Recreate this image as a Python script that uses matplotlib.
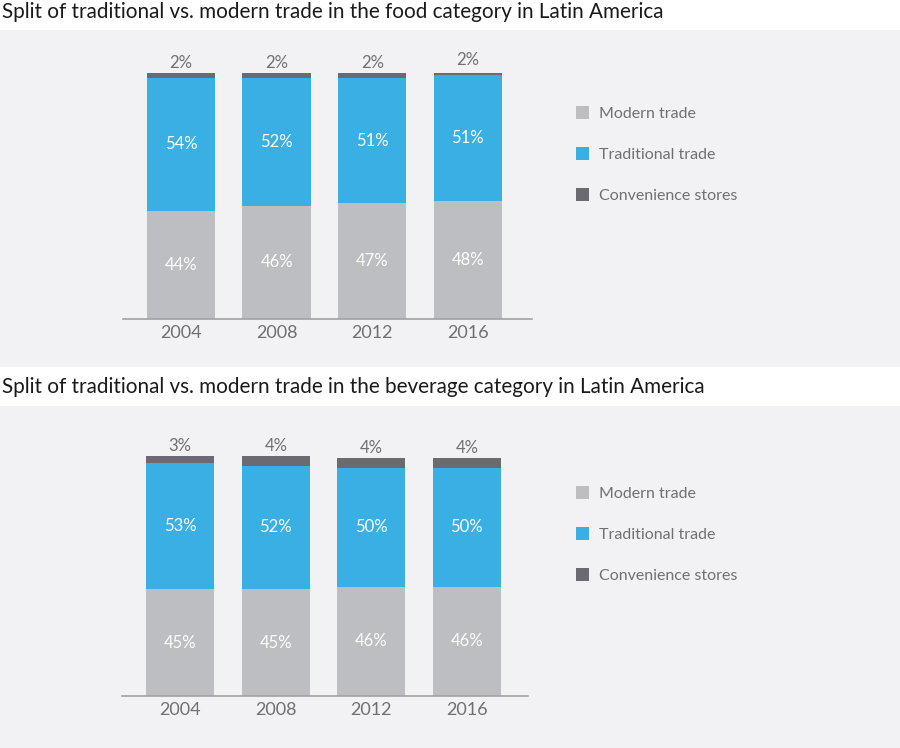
import matplotlib
matplotlib.use("Agg")
import matplotlib.pyplot as plt
from matplotlib.patches import Rectangle
import numpy as np

years = ["2004", "2008", "2012", "2016"]
food_modern = [44, 46, 47, 48]
food_traditional = [54, 52, 51, 51]
food_convenience = [2, 2, 2, 2]
bev_modern = [45, 45, 46, 46]
bev_traditional = [53, 52, 50, 50]
bev_convenience = [3, 4, 4, 4]
series_names = ["Modern trade", "Traditional trade", "Convenience stores"]
title_food = "Split of traditional vs. modern trade in the food category in Latin America"
title_bev = "Split of traditional vs. modern trade in the beverage category in Latin America"

C_MOD = "#bdbec1"
C_TRAD = "#39afe4"
C_CONV = "#6a6b70"
C_BG = "#f2f2f4"
C_TXT = "#6f7074"

W, H = 900, 748
fig = plt.figure(figsize=(W / 100, H / 100), dpi=100)
fig.patch.set_facecolor("white")

def fx(px):
    return px / W

def fy(py):
    return 1 - py / H

# panel backgrounds
fig.patches.append(Rectangle((0, fy(367)), 1, (367 - 30) / H, transform=fig.transFigure,
                             facecolor=C_BG, edgecolor="none", zorder=-5))
fig.patches.append(Rectangle((0, 0), 1, (748 - 406) / H, transform=fig.transFigure,
                             facecolor=C_BG, edgecolor="none", zorder=-5))

fig.text(fx(2), fy(12), title_food, fontsize=14.9, family="Lato", color="#1a1a1a",
         va="center", ha="left")
fig.text(fx(2), fy(387), title_bev, fontsize=14.9, family="Lato", color="#1a1a1a",
         va="center", ha="left")

def panel(left_px, right_px, base_px, top_px, ymax, modern, trad, conv, xl, xr, leg_y_px):
    ax = fig.add_axes([fx(left_px), fy(base_px), (right_px - left_px) / W, (base_px - top_px) / H])
    ax.set_facecolor("none")
    x = np.arange(len(years))
    w = 0.715
    modern = np.array(modern); trad = np.array(trad); conv = np.array(conv)
    b1 = ax.bar(x, modern, w, color=C_MOD, label=series_names[0])
    b2 = ax.bar(x, trad, w, bottom=modern, color=C_TRAD, label=series_names[1])
    b3 = ax.bar(x, conv, w, bottom=modern + trad, color=C_CONV, label=series_names[2])
    for i in range(len(years)):
        ax.text(x[i], modern[i] / 2, f"{modern[i]}%", ha="center", va="center",
                color="white", fontsize=12, family="Lato")
        ax.text(x[i], modern[i] + trad[i] / 2, f"{trad[i]}%", ha="center", va="center",
                color="white", fontsize=12, family="Lato")
        ax.text(x[i], modern[i] + trad[i] + conv[i] + 1.0, f"{conv[i]}%", ha="center",
                va="bottom", color=C_TXT, fontsize=12, family="Lato", clip_on=False)
    ax.set_xlim(xl, xr)
    ax.set_ylim(0, ymax)
    for s in ["top", "right", "left"]:
        ax.spines[s].set_visible(False)
    ax.spines["bottom"].set_color("#a0a1a5")
    ax.spines["bottom"].set_linewidth(1.2)
    ax.set_yticks([])
    ax.set_xticks(x)
    ax.set_xticklabels(years, fontsize=13, color=C_TXT, family="Lato")
    ax.tick_params(axis="x", length=0, pad=4)
    leg = fig.legend(handles=[b1, b2, b3], labels=series_names, loc="upper left",
                     bbox_to_anchor=(fx(562), fy(leg_y_px)), frameon=False,
                     handlelength=0.8, handleheight=0.8, handletextpad=0.6,
                     labelspacing=1.65, prop={"family": "Lato", "size": 11.5})
    for t in leg.get_texts():
        t.set_color(C_TXT)
    return ax

panel(123, 532, 319, 73, 100, food_modern, food_traditional, food_convenience,
      -0.606, 3.67, 92)
panel(122, 528, 696, 456, 101, bev_modern, bev_traditional, bev_convenience,
      -0.61, 3.64, 472)

fig.savefig("out.png", dpi=100, facecolor="white")
